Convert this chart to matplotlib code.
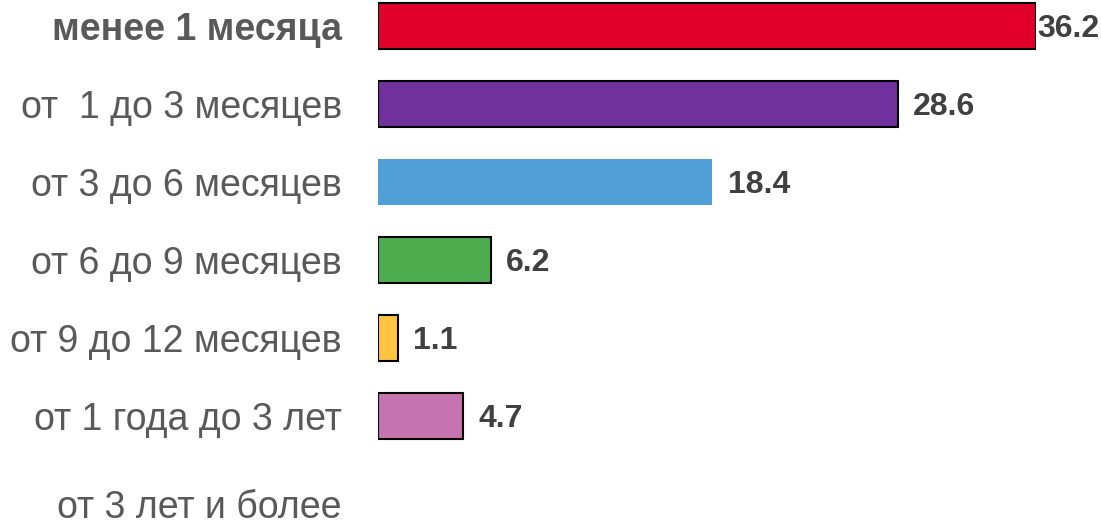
import matplotlib
matplotlib.use('Agg')
import matplotlib.pyplot as plt
import matplotlib.transforms as mtransforms
import numpy as np

plt.rcParams['font.family'] = ['Liberation Sans', 'DejaVu Sans']

categories = ['менее 1 месяца', 'от  1 до 3 месяцев', 'от 3 до 6 месяцев',
              'от 6 до 9 месяцев', 'от 9 до 12 месяцев', 'от 1 года до 3 лет',
              'от 3 лет и более']
values = [36.2, 28.6, 18.4, 6.2, 1.1, 4.7, 0]
colors = ['#E0002A', '#70309E', '#519FD8', '#4EAD4F', '#FFC43F', '#C574AF', '#FFFFFF']
edges = ['black', 'black', 'none', 'black', 'black', 'black', 'none']

W, H = 1101, 525
fig = plt.figure(figsize=(W / 100, H / 100), dpi=100)
# ось x: 0 -> 378px, 36.2 -> 1036px; строки через 78px, первая на 26px
ax = fig.add_axes([378 / W, 0, (1036 - 378) / W, 1])
ax.set_xlim(0, 36.2)
ax.set_ylim((H - 26) / 78, -26 / 78)

y = np.arange(len(categories))
ax.barh(y, values, height=0.58, color=colors, edgecolor=edges, linewidth=1.5)

for i, v in enumerate(values):
    if v == 0:
        continue
    off = 1 if i == 0 else 11
    ax.annotate(f'{v:.1f}', (v, i), xytext=(off, -2), textcoords='offset points',
                ha='left', va='center', fontsize=23, fontweight='bold',
                color='#404040', annotation_clip=False)

ax.set_yticks(y)
ax.set_yticklabels(categories, fontsize=27, color='#595959')
labels = ax.get_yticklabels()
labels[0].set_fontweight('bold')
ax.tick_params(axis='y', length=0, pad=26)
# последняя подпись в оригинале чуть ниже
labels[-1].set_transform(labels[-1].get_transform() +
                         mtransforms.ScaledTranslation(0, -0.10, fig.dpi_scale_trans))
ax.set_xticks([])
for s in ax.spines.values():
    s.set_visible(False)

fig.savefig('out.png', dpi=100)
